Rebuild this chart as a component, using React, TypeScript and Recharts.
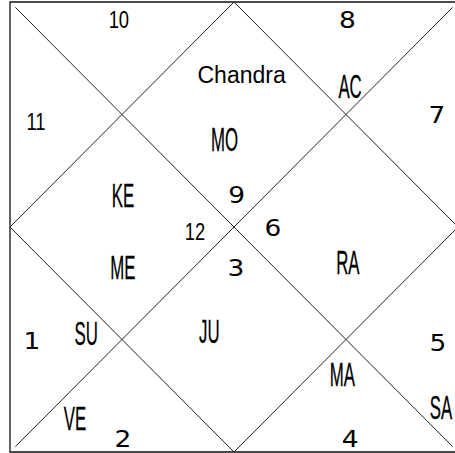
import React from "react";
import { ScatterChart, Scatter, XAxis, YAxis, ReferenceLine, ReferenceArea } from "recharts";

// chart frame is 0..100 on both axes, y grows downward
const houseLabels = ["10", "8", "11", "7", "9", "12", "6", "3", "1", "5", "2", "4"];
const houseX = [24.3, 75.3, 5.8, 95.3, 50.6, 41.3, 58.7, 50.4, 4.9, 95.5, 25.2, 75.9];
const houseY = [4.0, 4.0, 26.6, 25.1, 43.0, 51.0, 50.2, 59.2, 75.3, 75.8, 97.2, 97.2];

const planetLabels = ["AC", "MO", "KE", "ME", "RA", "SU", "JU", "MA", "SA", "VE"];
const planetX = [75.9, 47.9, 25.2, 25.2, 75.4, 17.0, 44.5, 74.2, 96.2, 14.5];
const planetY = [18.9, 30.7, 43.1, 59.0, 58.0, 73.8, 73.3, 82.9, 90.1, 92.7];

const titleLabels = ["Chandra"];
const titleX = [51.7];
const titleY = [16.2];

const houses = houseLabels.map((label, i) => ({ label, x: houseX[i], y: houseY[i] }));
const planets = planetLabels.map((label, i) => ({ label, x: planetX[i], y: planetY[i] }));
const titles = titleLabels.map((label, i) => ({ label, x: titleX[i], y: titleY[i] }));

const INSET = 1.2;

const makeLabel = (kind: string) => (props: any) => {
  const { cx, cy, payload } = props;
  if (cx == null || cy == null) return <g />;
  let fam = "'Liberation Sans', Arial, sans-serif";
  let fs = 23;
  let sx = 1;
  let sy = 1;
  let sw = 0;
  if (kind === "house") {
    if (payload.label.length > 1) {
      fs = 23;
      sx = 0.8;
    } else {
      fam = "'DejaVu Sans', sans-serif";
      fs = 23;
      sx = 1.15;
    }
  } else if (kind === "planet") {
    fs = 28;
    sx = 0.6;
    sy = 1.17;
    sw = 0.25;
  }
  return (
    <text
      transform={`translate(${cx},${cy}) scale(${sx},${sy})`}
      textAnchor="middle"
      dominantBaseline="central"
      fontFamily={fam}
      fontSize={fs}
      fill="#000"
      stroke={sw ? "#000" : "none"}
      strokeWidth={sw}
    >
      {payload.label}
    </text>
  );
};

export default function App() {
  return (
    <div style={{ position: "fixed", left: 0, top: 0, width: 455, height: 453, overflow: "hidden", background: "#fff" }}>
      <ScatterChart width={470} height={460} margin={{ top: 2, right: 12, bottom: 8, left: 10 }}>
        <XAxis type="number" dataKey="x" domain={[0, 100]} hide />
        <YAxis type="number" dataKey="y" domain={[0, 100]} reversed hide />
        <ReferenceArea x1={0} x2={100} y1={0} y2={100} fill="none" stroke="#111" strokeWidth={1.3} />
        <ReferenceLine segment={[{ x: INSET, y: INSET }, { x: 100 - INSET, y: 100 - INSET }]} stroke="#222" />
        <ReferenceLine segment={[{ x: INSET, y: 100 - INSET }, { x: 100 - INSET, y: INSET }]} stroke="#222" />
        <ReferenceLine segment={[{ x: 50, y: 0 }, { x: 0, y: 50 }]} stroke="#222" />
        <ReferenceLine segment={[{ x: 0, y: 50 }, { x: 50, y: 100 }]} stroke="#222" />
        <ReferenceLine segment={[{ x: 50, y: 100 }, { x: 100, y: 50 }]} stroke="#222" />
        <ReferenceLine segment={[{ x: 100, y: 50 }, { x: 50, y: 0 }]} stroke="#222" />
        <Scatter data={houses} shape={makeLabel("house")} isAnimationActive={false} />
        <Scatter data={planets} shape={makeLabel("planet")} isAnimationActive={false} />
        <Scatter data={titles} shape={makeLabel("title")} isAnimationActive={false} />
      </ScatterChart>
    </div>
  );
}
